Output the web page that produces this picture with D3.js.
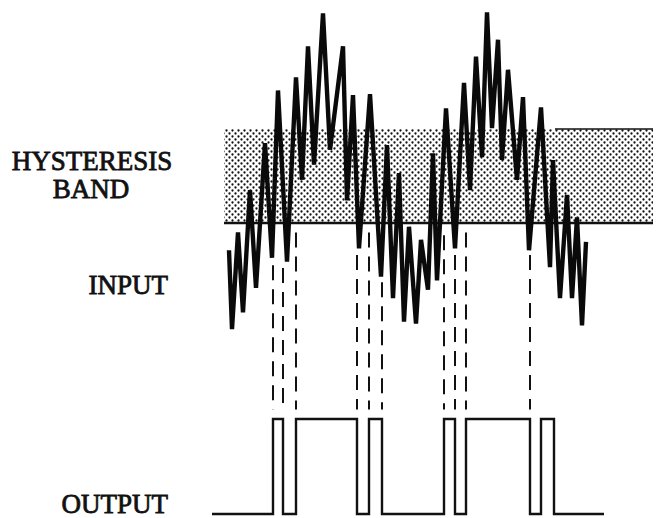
<!DOCTYPE html>
<html>
<head>
<meta charset="utf-8">
<script src="https://cdn.jsdelivr.net/npm/d3@7"></script>
<style>
  body { margin: 0; background: #fff; }
  text { font-family: "Liberation Serif", "DejaVu Serif", serif; fill: #111; }
</style>
</head>
<body>
<div id="chart"></div>
<script>
// Noisy input signal (time, level); thresholds are 0 (lower) and 10 (upper)
var inputTime = [17, 20, 26, 31, 38, 44, 53, 60, 66, 75, 84, 90, 96, 102, 111, 118, 131, 135, 141, 147,
  158, 169, 175, 181, 187, 192, 197, 204, 209, 216, 221, 225, 234, 243, 252, 258, 264, 270, 275, 280,
  286, 290, 296, 305, 311, 317, 329, 338, 341, 348, 355, 360, 365, 370, 374];
var inputLevel = [-2.9, -11.3, -1.0, -9.5, 3.5, -6.9, 8.5, -3.7, 14.1, -4.1, 15.5, 4.6, 18.8, 6.2, 22.3, 7.8, 18.8, 2.4, 13.6, -2.7,
  13.7, -5.7, 8.3, -8.0, 5.3, -10.5, -0.4, -10.7, -1.8, -7.1, 7.4, -6.1, 12.2, -2.7, 14.9, 3.5, 17.7, 7.0, 22.4, 10.1,
  19.5, 6.7, 16.3, 4.6, 13.4, -2.9, 12.3, -4.7, 6.7, -8.0, 3.0, -8.0, 0.6, -10.9, -2.0];

// hysteresis band
var bandStart = 12, bandEnd = 441;
var bandLow = 0, bandHigh = 10;

// output switching edges (rise, fall pairs)
var outputEdges = [61, 71, 84, 145, 157, 170, 232, 243, 254, 318, 329, 342];
var outputStart = 0, outputEnd = 392;

// dashed projection lines: time and where they leave the input trace
var dashTime = [61, 71, 84, 145, 157, 170, 232, 243, 254, 318];
var dashFrom = [-4.5, -4.8, -1.0, -3.4, -1.0, -6.3, -1.3, -3.4, -1.0, -3.4];

var svgWidth = 657;
var svgHeight = 518;

var svg = d3.select('#chart')
  .append('svg')
  .attr('width', svgWidth)
  .attr('height', svgHeight);

var x = d3.scaleLinear().domain([0, 392]).range([212, 604]);
var yIn = d3.scaleLinear().domain([0, 10]).range([223, 129]);
var yOut = d3.scaleLinear().domain([0, 1]).range([514, 419]);

// halftone dot pattern for the band
var defs = svg.append('defs');
var pat = defs.append('pattern')
  .attr('id', 'dots')
  .attr('patternUnits', 'userSpaceOnUse')
  .attr('width', 6)
  .attr('height', 6);
pat.append('circle').attr('cx', 1.5).attr('cy', 1.5).attr('r', 1.15).attr('fill', '#111');
pat.append('circle').attr('cx', 4.5).attr('cy', 4.5).attr('r', 1.15).attr('fill', '#111');

svg.append('rect')
  .attr('x', x(bandStart))
  .attr('y', yIn(bandHigh))
  .attr('width', x(bandEnd) - x(bandStart))
  .attr('height', yIn(bandLow) - yIn(bandHigh))
  .attr('fill', 'url(#dots)');

// top edge is only solid on the right
svg.append('line')
  .attr('x1', x(343)).attr('x2', x(bandEnd))
  .attr('y1', yIn(bandHigh)).attr('y2', yIn(bandHigh))
  .attr('stroke', '#111').attr('stroke-width', 1.5);

svg.append('line')
  .attr('x1', x(bandStart)).attr('x2', x(bandEnd))
  .attr('y1', yIn(bandLow)).attr('y2', yIn(bandLow))
  .attr('stroke', '#111').attr('stroke-width', 2.4);

// dashed projection lines
svg.selectAll('.proj')
  .data(dashTime)
  .enter()
  .append('line')
  .attr('class', 'proj')
  .attr('x1', d => x(d))
  .attr('x2', d => x(d))
  .attr('y1', (d, i) => yIn(dashFrom[i]))
  .attr('y2', yOut(1.1))
  .attr('stroke', '#111')
  .attr('stroke-width', 2)
  .attr('stroke-dasharray', '15,9');

// input trace
var inputData = inputTime.map((t, i) => [t, inputLevel[i]]);
var line = d3.line().x(d => x(d[0])).y(d => yIn(d[1]));

svg.append('path')
  .datum(inputData)
  .attr('d', line)
  .attr('fill', 'none')
  .attr('stroke', '#0a0a0a')
  .attr('stroke-width', 4.4)
  .attr('stroke-linejoin', 'miter');

// output pulse train
var outData = [[outputStart, 0]];
outputEdges.forEach(function(t, i) {
  var before = i % 2 === 0 ? 0 : 1;
  outData.push([t, before]);
  outData.push([t, 1 - before]);
});
outData.push([outputEnd, 0]);

var lineOut = d3.line().x(d => x(d[0])).y(d => yOut(d[1]));
svg.append('path')
  .datum(outData)
  .attr('d', lineOut)
  .attr('fill', 'none')
  .attr('stroke', '#111')
  .attr('stroke-width', 2.4);

// labels
var labels = [
  {text: 'HYSTERESIS', x: 92, y: 170, anchor: 'middle'},
  {text: 'BAND', x: 91, y: 198, anchor: 'middle'},
  {text: 'INPUT', x: 168, y: 294, anchor: 'end'},
  {text: 'OUTPUT', x: 168, y: 513, anchor: 'end'}
];
svg.selectAll('.lbl')
  .data(labels)
  .enter()
  .append('text')
  .attr('class', 'lbl')
  .attr('x', d => d.x)
  .attr('y', d => d.y)
  .attr('text-anchor', d => d.anchor)
  .attr('font-size', 27)
  .attr('stroke', '#111')
  .attr('stroke-width', 0.8)
  .text(d => d.text);
</script>
</body>
</html>
